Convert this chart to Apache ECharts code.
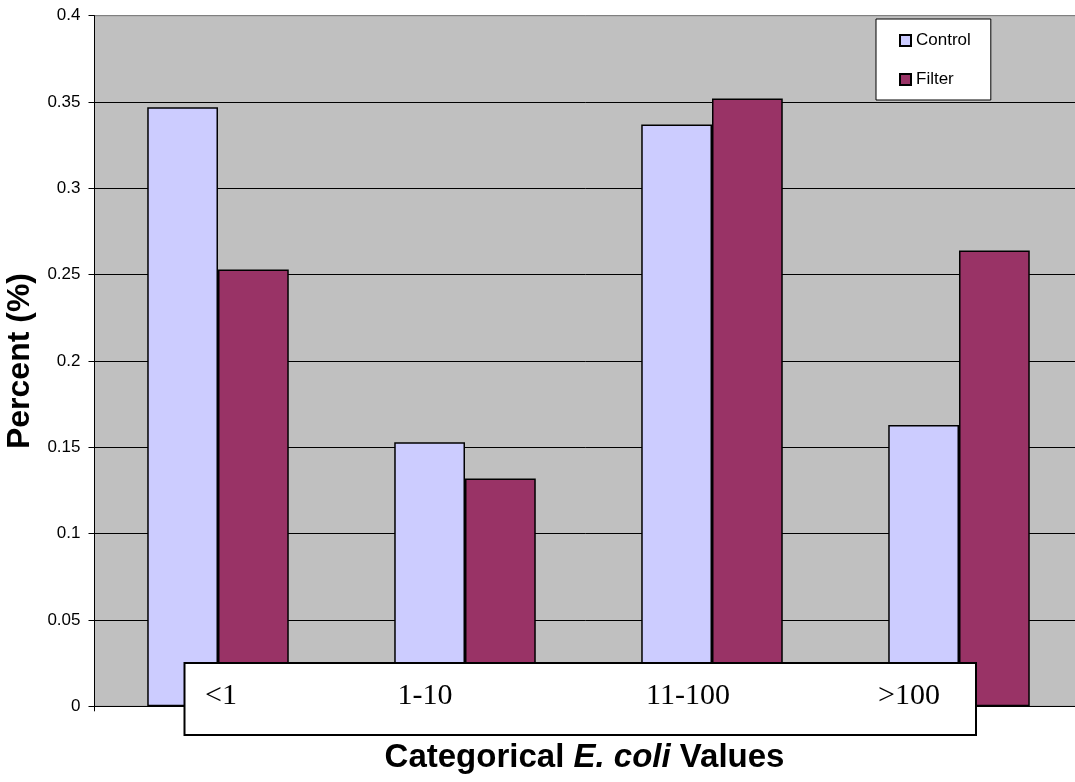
<!DOCTYPE html>
<html>
<head>
<meta charset="utf-8">
<script src="https://cdn.jsdelivr.net/npm/echarts@6/dist/echarts.min.js"></script>
<style>
  html, body { margin: 0; padding: 0; background: #fff; }
  #chart { width: 1075px; height: 782px; }
</style>
</head>
<body>
<div id="chart"></div>
<script>
// E. coli category shares, control vs. filter households
const categories = ['<1', '1-10', '11-100', '>100'];
const controlValues = [0.347, 0.153, 0.337, 0.163];
const filterValues = [0.253, 0.132, 0.352, 0.264];
const seriesNames = ['Control', 'Filter'];

// Horizontal nudge of each category label inside the label box (px)
const labelShift = [3, -40, -24, -50];

const SANS = 'Liberation Sans, Arial, sans-serif';
const SERIF = 'Liberation Serif, Times New Roman, serif';

const chart = echarts.init(document.getElementById('chart'), null, { renderer: 'canvas' });

const xData = categories.map((c, i) => {
  const s = labelShift[i];
  return {
    value: c,
    textStyle: { padding: s >= 0 ? [0, 0, 0, 2 * s] : [0, -2 * s, 0, 0] }
  };
});

chart.setOption({
  animation: false,
  backgroundColor: '#ffffff',
  grid: {
    left: 94.5, right: -7.5, top: 15.7, bottom: 75.7,
    containLabel: false,
    outerBoundsMode: 'none',
    show: true, backgroundColor: '#C0C0C0', borderColor: '#808080', borderWidth: 1
  },
  legend: {
    orient: 'vertical',
    left: 876, top: 19,
    padding: [13, 20, 12, 23],
    itemGap: 22,
    itemWidth: 11, itemHeight: 11,
    icon: 'rect',
    backgroundColor: '#ffffff',
    borderColor: '#000000', borderWidth: 1,
    textStyle: { fontFamily: SANS, fontSize: 17, color: '#000', lineHeight: 17 },
    data: seriesNames
  },
  xAxis: {
    type: 'category',
    data: xData,
    z: 20,
    axisLine: { show: false },
    axisTick: { show: true, length: 5, interval: (i) => i === 0, lineStyle: { color: '#000' } },
    axisLabel: {
      fontFamily: SERIF, fontSize: 30, color: '#000',
      margin: -25, verticalAlign: 'middle'
    },
    name: '{a|Categorical }{b|E. coli}{a| Values}',
    nameLocation: 'middle',
    nameGap: 52,
    nameTextStyle: {
      verticalAlign: 'middle',
      padding: [0, 8, 0, 0],
      rich: {
        a: { fontFamily: SANS, fontSize: 33, fontWeight: 'bold', color: '#000' },
        b: { fontFamily: SANS, fontSize: 33, fontWeight: 'bold', fontStyle: 'italic', color: '#000' }
      }
    }
  },
  yAxis: {
    type: 'value',
    min: 0, max: 0.4, interval: 0.05,
    axisLine: { show: true, lineStyle: { color: '#000', width: 1 } },
    axisTick: { show: true, length: 6, lineStyle: { color: '#000' } },
    axisLabel: {
      fontFamily: SANS, fontSize: 17, color: '#000', margin: 14,
      formatter: (v) => String(Number(v.toFixed(2)))
    },
    splitLine: {
      show: true,
      lineStyle: {
        color: ['#000', '#000', '#000', '#000', '#000', '#000', '#000', '#000', '#808080'],
        width: 1
      }
    },
    name: 'Percent (%)',
    nameLocation: 'middle',
    nameGap: 71.5,
    nameRotate: 90,
    nameTextStyle: {
      fontFamily: SANS, fontSize: 32, fontWeight: 'bold', color: '#000', verticalAlign: 'middle'
    }
  },
  graphic: [{
    type: 'rect',
    z: 10,
    shape: { x: 184.5, y: 663, width: 791.5, height: 72 },
    style: { fill: '#ffffff', stroke: '#000000', lineWidth: 2 }
  }],
  series: [
    {
      name: seriesNames[0],
      type: 'bar',
      data: controlValues,
      barGap: '0%',
      barCategoryGap: '42.7%',
      itemStyle: { color: '#CCCCFF', borderColor: '#000', borderWidth: 1.5 }
    },
    {
      name: seriesNames[1],
      type: 'bar',
      data: filterValues,
      barGap: '0%',
      barCategoryGap: '42.7%',
      itemStyle: { color: '#993366', borderColor: '#000', borderWidth: 1.5 }
    }
  ]
});
</script>
</body>
</html>
